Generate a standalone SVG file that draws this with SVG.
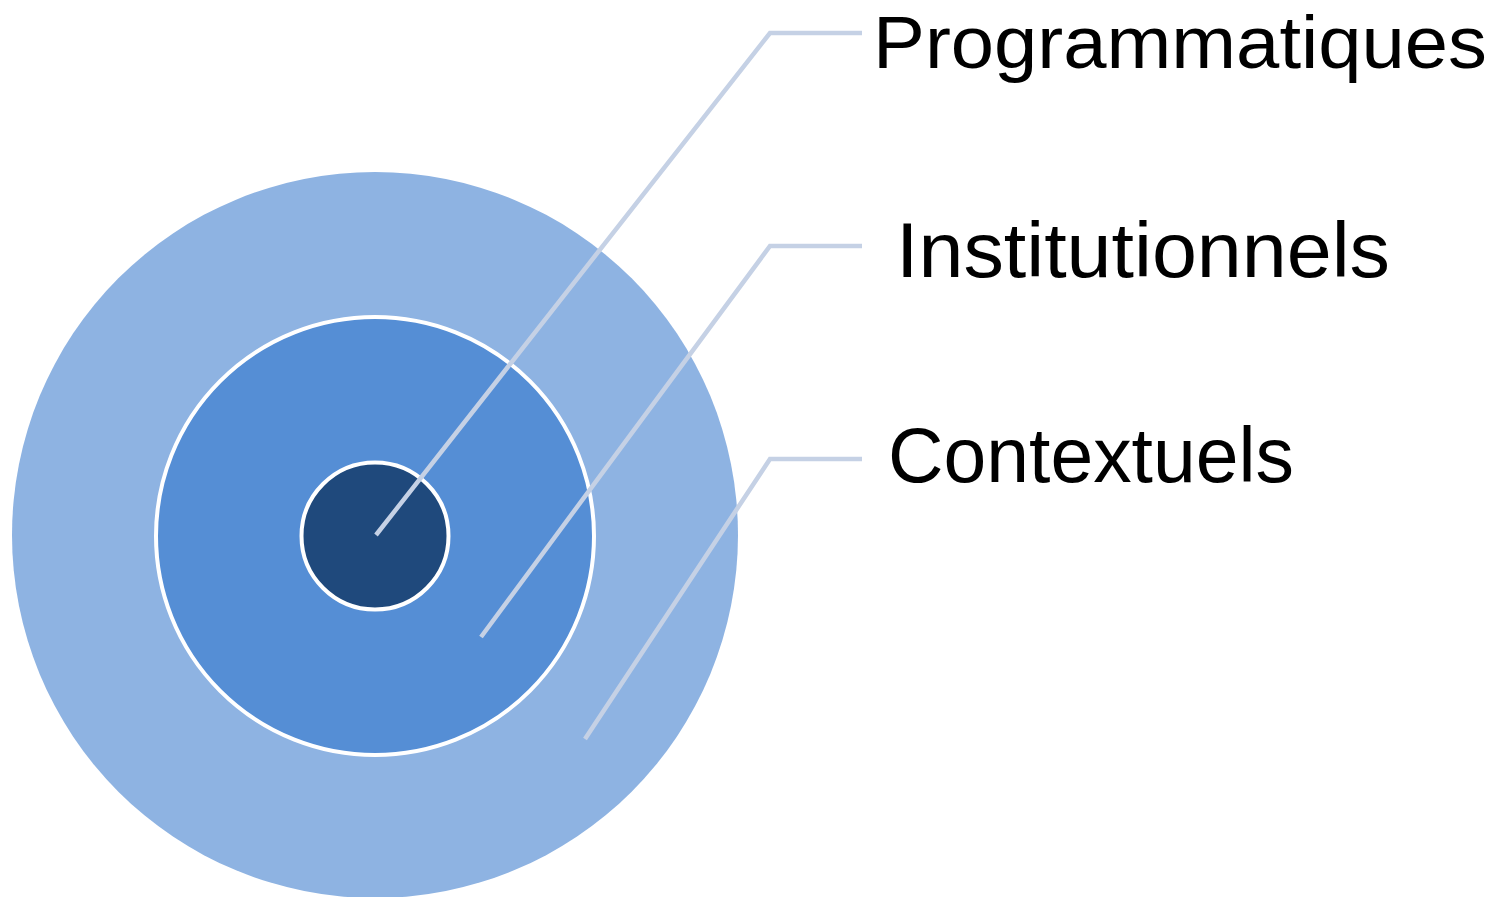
<svg xmlns="http://www.w3.org/2000/svg" width="1508" height="897" viewBox="0 0 1508 897">
<style>
.lbl{font-family:"Liberation Sans","Arial",sans-serif;font-size:78px;fill:#000}
.conn{fill:none;stroke:#c5d1e5;stroke-width:4.5;stroke-linejoin:miter}
</style>
<rect width="1508" height="897" fill="#fff"/>
<g id="outer"><circle cx="375" cy="535" r="363" fill="#8eb3e2"/></g>
<g id="middle"><circle cx="375" cy="536" r="219" fill="#558ed5" stroke="#fff" stroke-width="4"/></g>
<g id="inner"><circle cx="375" cy="536" r="73.5" fill="#1f497c" stroke="#fff" stroke-width="4"/></g>
<g id="connectors">
<polyline class="conn" points="376,535 770,33 862,33"/>
<polyline class="conn" points="481,637 770,246 862,246"/>
<polyline class="conn" points="585,739 770,459 862,459"/>
</g>
<g id="label-programmatiques"><text class="lbl" x="873" y="68" style="font-size:75px" textLength="614" lengthAdjust="spacingAndGlyphs">Programmatiques</text></g>
<g id="label-institutionnels"><text class="lbl" x="896" y="277" textLength="494" lengthAdjust="spacingAndGlyphs">Institutionnels</text></g>
<g id="label-contextuels"><text class="lbl" x="888" y="482" textLength="406" lengthAdjust="spacingAndGlyphs">Contextuels</text></g>
</svg>
